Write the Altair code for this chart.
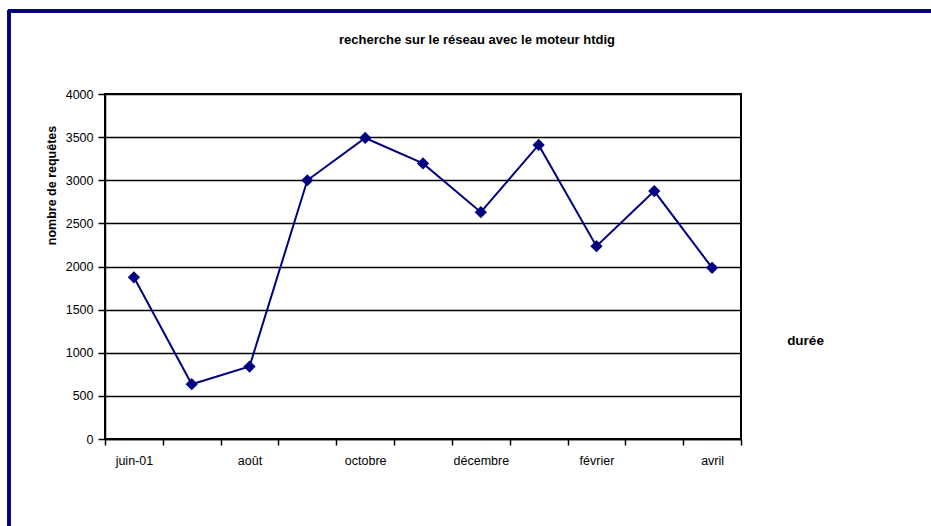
import json
import altair as alt
import pandas as pd

# Monthly number of searches run through the htdig engine
mois = ["juin-01", "juillet", "août", "septembre", "octobre", "novembre",
        "décembre", "janvier", "février", "mars", "avril"]
requetes = [1875, 635, 840, 3000, 3490, 3195, 2630, 3410, 2235, 2875, 1985]

# Only every second month carries a label on the x axis
mois_affiches = ["juin-01", "août", "octobre", "décembre", "février", "avril"]
graduations_y = list(range(0, 4001, 500))
titre = "recherche sur le réseau avec le moteur htdig"

df = pd.DataFrame({"mois": mois, "requetes": requetes})

FONT = "Liberation Sans"
NAVY = "#000080"

label_expr = (
    "indexof(" + json.dumps(mois_affiches, ensure_ascii=False)
    + ", datum.value) >= 0 ? datum.value : ''"
)

x_enc = alt.X(
    "mois:N",
    sort=mois,
    scale=alt.Scale(type="band", paddingInner=0, paddingOuter=0),
    axis=alt.Axis(
        title="durée",
        titleX=700, titleY=-99,
        titleAlign="center", titleBaseline="middle",
        titleFont=FONT, titleFontSize=13.5, titleFontWeight="bold",
        titleColor="black",
        labelExpr=label_expr,
        labelAngle=0,
        labelFont=FONT, labelFontSize=12.5, labelColor="black",
        labelPadding=9,
        tickBand="extent",
        tickSize=6, tickColor="black", tickWidth=1.5,
        domainColor="black", domainWidth=1.5,
        grid=False,
    ),
)

y_enc = alt.Y(
    "requetes:Q",
    scale=alt.Scale(domain=[0, 4000], nice=False, zero=True),
    axis=alt.Axis(
        values=graduations_y,
        format="d",
        title="nombre de requêtes",
        titleAngle=270,
        titleX=-54, titleY=91,
        titleAlign="center", titleBaseline="middle",
        titleFont=FONT, titleFontSize=12.5, titleFontWeight="bold",
        titleColor="black",
        labelFont=FONT, labelFontSize=12.5, labelColor="black",
        labelPadding=5,
        tickSize=7, tickColor="black", tickWidth=1.5,
        domainColor="black", domainWidth=1.5,
        grid=True, gridColor="black", gridWidth=1.5, gridOpacity=1,
    ),
)

base = alt.Chart(df)

ligne = base.mark_line(color=NAVY, strokeWidth=2).encode(x=x_enc, y=y_enc)
points = base.mark_point(
    shape="diamond", filled=True, color=NAVY, size=150, opacity=1
).encode(x=alt.X("mois:N", sort=mois), y="requetes:Q")

# Chart title, centred over the whole figure rather than the plot area
entete = alt.Chart(pd.DataFrame({"t": [titre]})).mark_text(
    font=FONT, fontSize=13, fontWeight="bold", color="black",
    align="center", baseline="middle",
).encode(text="t:N", x=alt.value(372), y=alt.value(-54))

# Frame around the whole figure (top and left edges)
cadre_haut = base.mark_rule(color=NAVY, strokeWidth=2.5).encode(
    x=alt.value(-97), x2=alt.value(840), y=alt.value(-83)
)
cadre_gauche = base.mark_rule(color=NAVY, strokeWidth=2.5).encode(
    x=alt.value(-96), y=alt.value(-84), y2=alt.value(440)
)

chart = (
    alt.layer(ligne, points, entete, cadre_haut, cadre_gauche)
    .properties(
        width=636,
        height=345,
        autosize=alt.AutoSizeParams(type="none"),
        padding={"left": 105, "top": 94, "right": 190, "bottom": 87},
        background="white",
    )
    .configure_view(stroke="black", strokeWidth=2)
)

chart.save("out.html", embed_options={"renderer": "svg", "actions": False})
